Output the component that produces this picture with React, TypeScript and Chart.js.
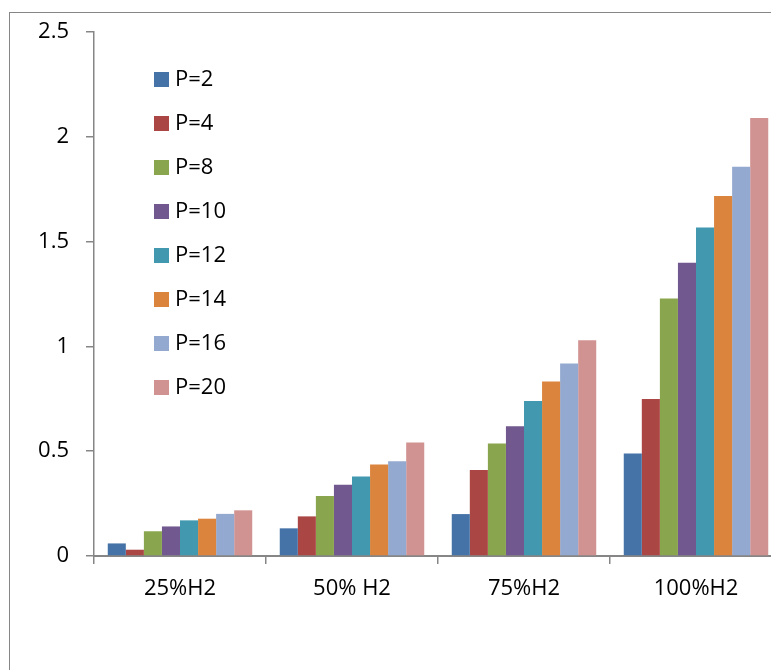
import React, { useEffect, useRef } from "react";
import { Chart, registerables } from "chart.js";

Chart.register(...registerables);

const categories = ["25%H2", "50% H2", "75%H2", "100%H2"];
const seriesLabels = ["P=2", "P=4", "P=8", "P=10", "P=12", "P=14", "P=16", "P=20"];
const p2 = [0.06, 0.132, 0.2, 0.489];
const p4 = [0.03, 0.189, 0.41, 0.749];
const p8 = [0.118, 0.286, 0.537, 1.229];
const p10 = [0.141, 0.34, 0.619, 1.399];
const p12 = [0.17, 0.379, 0.74, 1.567];
const p14 = [0.178, 0.437, 0.833, 1.718];
const p16 = [0.201, 0.452, 0.919, 1.857];
const p20 = [0.218, 0.541, 1.029, 2.09];
const seriesValues = [p2, p4, p8, p10, p12, p14, p16, p20];
const colors = ["#4572A7", "#AA4643", "#89A54E", "#71588F", "#4198AF", "#DB843D", "#93A9CF", "#D19392"];
const yTicks = [0, 0.5, 1, 1.5, 2, 2.5];

const FONT = '"Open Sans", sans-serif';
const AXIS = "#868686";

const legendPlugin = {
  id: "insideLegend",
  afterDraw(chart: any) {
    const ctx = chart.ctx;
    ctx.save();
    chart.data.datasets.forEach((ds: any, i: number) => {
      const y = 72 + i * 44;
      ctx.fillStyle = ds.backgroundColor;
      ctx.fillRect(154, y, 15, 15);
      ctx.fillStyle = "#000";
      ctx.font = `22px ${FONT}`;
      ctx.textBaseline = "middle";
      ctx.textAlign = "left";
      ctx.fillText(ds.label, 175, y + 8);
    });
    ctx.restore();
  },
};

export default function App() {
  const ref = useRef<HTMLCanvasElement | null>(null);
  useEffect(() => {
    if (!ref.current) return;
    const chart = new Chart(ref.current, {
      type: "bar",
      data: {
        labels: categories,
        datasets: seriesLabels.map((label, i) => ({
          label,
          data: seriesValues[i],
          backgroundColor: colors[i],
          borderWidth: 0,
          categoryPercentage: 0.84,
          barPercentage: 1.0,
        })),
      },
      options: {
        responsive: false,
        animation: false,
        layout: { padding: { left: 0, top: 32, right: 8, bottom: 0 } },
        plugins: { legend: { display: false }, tooltip: { enabled: false } },
        scales: {
          x: {
            grid: { display: true, drawOnChartArea: false, drawTicks: true, tickLength: 8, color: AXIS, lineWidth: 1.5, offset: true },
            border: { display: true, color: AXIS, width: 2 },
            ticks: { color: "#000", font: { family: FONT, size: 22 }, padding: 12, maxRotation: 0 },
            afterFit: (s: any) => { s.height = 124; },
          },
          y: {
            min: 0,
            max: 2.5,
            afterBuildTicks: (s: any) => { s.ticks = yTicks.map((v) => ({ value: v })); },
            grid: { display: true, drawOnChartArea: false, drawTicks: true, tickLength: 8, color: AXIS, lineWidth: 1.5 },
            border: { display: true, color: AXIS, width: 1.5 },
            ticks: { color: "#000", font: { family: FONT, size: 22 }, padding: 17, callback: (v: any) => String(v) },
            afterFit: (s: any) => { s.width = 94; },
          },
        },
      },
      plugins: [legendPlugin],
    });
    return () => chart.destroy();
  }, []);
  return (
    <div style={{ position: "fixed", left: 0, top: 0, width: 771, height: 670, overflow: "hidden", background: "#fff" }}>
      <div style={{ position: "absolute", left: 9, top: 12, width: 900, height: 900, border: `1px solid ${AXIS}` }} />
      <canvas ref={ref} width={790} height={680} style={{ position: "absolute", left: 0, top: 0 }} />
    </div>
  );
}
